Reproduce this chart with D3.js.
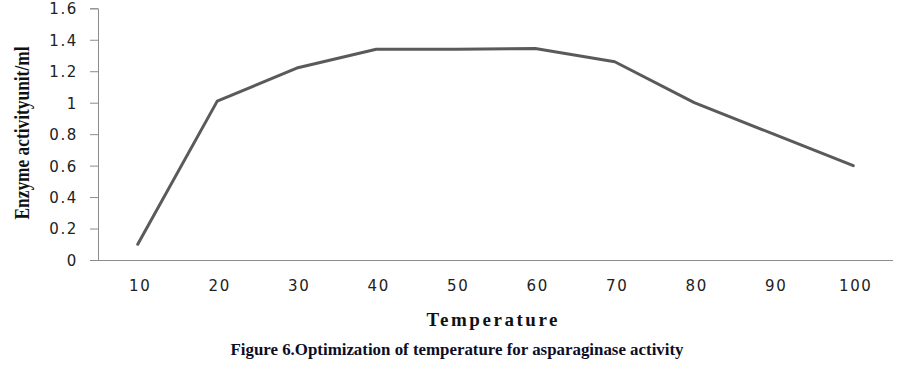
<!DOCTYPE html>
<html>
<head>
  <meta charset="utf-8">
  <script src="https://d3js.org/d3.v7.min.js"></script>
  <style>
    body { margin: 0; background: #fff; }
    .tick text {
      font-family: 'DejaVu Sans', sans-serif;
      font-size: 15px;
      letter-spacing: 1.6px;
      fill: #222;
    }
    .line {
      fill: none;
      stroke: #5a5a5a;
      stroke-width: 3px;
      stroke-linejoin: round;
      stroke-linecap: round;
    }
    .writing {
      font-family: 'Liberation Serif', 'Times New Roman', serif;
      font-weight: 700;
      fill: #111;
    }
  </style>
</head>
<body>
<div id="chartContainer"></div>
<script type="text/javascript">

  // chart values
  var temperatures = [10, 20, 30, 40, 50, 60, 70, 80, 90, 100];
  var activity = [0.1, 1.01, 1.22, 1.34, 1.34, 1.345, 1.26, 1.0, 0.8, 0.6];
  var yTicks = [0, 0.2, 0.4, 0.6, 0.8, 1, 1.2, 1.4, 1.6];

  var xTitle = "Temperature";
  var yTitle = "Enzyme activityunit/ml";
  var caption = "Figure 6.Optimization of temperature for asparaginase activity";

  var width = 901,
      height = 367;
  var margin = {left: 98, right: 8, top: 8, bottom: 107};

  var svg = d3.select("#chartContainer")
              .append("svg")
              .attr("width", width)
              .attr("height", height);

  var x = d3.scalePoint()
            .domain(temperatures)
            .range([margin.left, width - margin.right])
            .padding(0.5);

  var y = d3.scaleLinear()
            .domain([0, 1.6])
            .range([height - margin.bottom, margin.top + 0.3]);

  // y axis
  var yAxis = svg.append("g")
      .attr("transform", "translate(" + margin.left + ",0)")
      .call(d3.axisLeft(y)
              .tickValues(yTicks)
              .tickFormat(function(d) { return d3.format("")(d); })
              .tickSize(8)
              .tickPadding(12));
  yAxis.select(".domain").attr("stroke", "#8c8c8c");
  yAxis.selectAll(".tick line").attr("stroke", "#8c8c8c");
  yAxis.selectAll(".tick text").attr("dy", "0.36em");

  // x axis
  var xAxis = svg.append("g")
      .attr("transform", "translate(0," + (height - margin.bottom) + ")")
      .call(d3.axisBottom(x).tickSize(0).tickPadding(20));
  xAxis.select(".domain")
      .attr("stroke", "#8c8c8c")
      .attr("d", "M" + (margin.left - 8) + ",0.5H" + (width - margin.right));
  xAxis.selectAll(".tick text").attr("dx", "2");

  // data line
  var line = d3.line()
      .x(function(d, i) { return x(temperatures[i]); })
      .y(function(d) { return y(d); });

  svg.append("path")
      .datum(activity)
      .attr("class", "line")
      .attr("d", line);

  // axis titles
  svg.append("text")
      .attr("class", "writing")
      .attr("x", 492)
      .attr("y", 326)
      .attr("text-anchor", "middle")
      .attr("textLength", 131)
      .attr("lengthAdjust", "spacing")
      .style("font-size", "19px")
      .text(xTitle);

  svg.append("text")
      .attr("class", "writing")
      .attr("transform", "translate(29,133) rotate(-90)")
      .attr("text-anchor", "middle")
      .attr("textLength", 173)
      .attr("lengthAdjust", "spacingAndGlyphs")
      .style("font-size", "21px")
      .text(yTitle);

  svg.append("text")
      .attr("class", "writing")
      .attr("x", 457)
      .attr("y", 355)
      .attr("text-anchor", "middle")
      .attr("textLength", 453)
      .attr("lengthAdjust", "spacingAndGlyphs")
      .style("font-size", "17px")
      .style("fill", "#0d0d26")
      .text(caption);

</script>
</body>
</html>
